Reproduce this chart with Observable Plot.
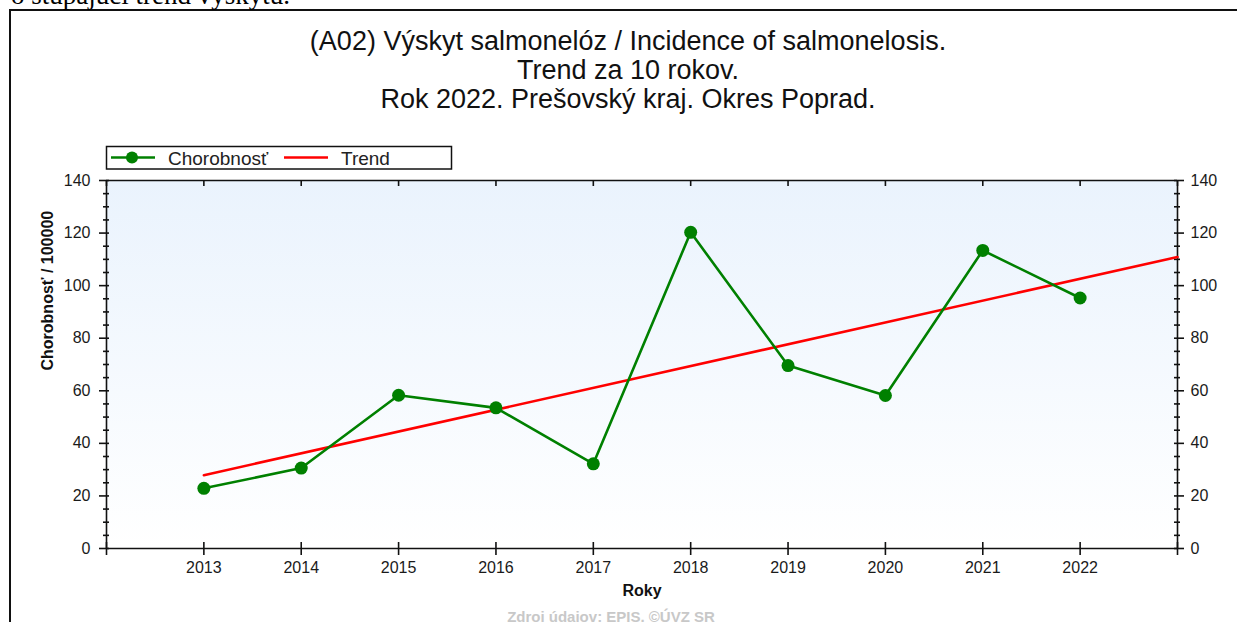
<!DOCTYPE html>
<html>
<head>
<meta charset="utf-8">
<script src="https://cdn.jsdelivr.net/npm/d3@7"></script>
<script src="https://cdn.jsdelivr.net/npm/@observablehq/plot@0.6"></script>
<style>
  html, body { margin: 0; padding: 0; background: #fff; }
  #page { position: relative; width: 1237px; height: 622px; overflow: hidden; background: #fff; font-family: "Liberation Sans", Arial, sans-serif; }
  #border { position: absolute; left: 9px; top: 9px; width: 1300px; height: 700px; border-left: 2px solid #111; border-top: 2px solid #111; }
  #chart { position: absolute; left: 0; top: 0; }
  #overlay { position: absolute; left: 0; top: 0; pointer-events: none; }
</style>
</head>
<body>
<div id="page">
  <div id="border"></div>
  <div id="chart"></div>
  <svg id="overlay" width="1237" height="622"></svg>
</div>
<script>
// ---- data ----
const years = [2013, 2014, 2015, 2016, 2017, 2018, 2019, 2020, 2021, 2022];
const incidence = [22.9, 30.6, 58.3, 53.5, 32.2, 120.3, 69.6, 58.2, 113.4, 95.3];
const trendYears = [2013, 2023];
const trendValues = [27.9, 110.9];
const xTickYears = [2012, 2013, 2014, 2015, 2016, 2017, 2018, 2019, 2020, 2021, 2022, 2023];
const yMajorTicks = [0, 20, 40, 60, 80, 100, 120, 140];
const yMinorTicks = [5, 10, 15, 25, 30, 35, 45, 50, 55, 65, 70, 75, 85, 90, 95, 105, 110, 115, 125, 130, 135];
const topNote = "o stúpajúci trend výskytu.";
const titleLines = [
  "(A02) Výskyt salmonelóz / Incidence of salmonelosis.",
  "Trend za 10 rokov.",
  "Rok 2022. Prešovský kraj. Okres Poprad."
];
const seriesLabels = ["Chorobnosť", "Trend"];
const yLabel = "Chorobnosť / 100000";
const xLabel = "Roky";
const sourceNote = "Zdroj údajov: EPIS, ©ÚVZ SR";

const incData = years.map((x, i) => ({x, y: incidence[i]}));
const trendData = trendYears.map((x, i) => ({x, y: trendValues[i]}));

const green = "#008000";
const red = "#ff0000";
const ink = "#111";

const chart = Plot.plot({
  width: 1237,
  height: 622,
  marginLeft: 106,
  marginRight: 60,
  marginTop: 180,
  marginBottom: 74,
  x: {domain: [2012, 2023], axis: null},
  y: {domain: [0, 140], axis: null},
  style: {fontFamily: "'Liberation Sans', Arial, sans-serif", fontSize: "16px", color: "#1a1a1a", background: "transparent", overflow: "visible"},
  marks: [
    Plot.frame({fill: "url(#plotBg)", stroke: null}),
    // axis lines
    Plot.ruleY([0, 140], {y: d => d, stroke: ink, strokeWidth: 1.6}),
    Plot.ruleX([2012, 2023], {x: d => d, stroke: ink, strokeWidth: 1.6}),
    // left ticks
    Plot.ruleY(yMajorTicks, {y: d => d, x1: 2012, x2: 2012, insetLeft: -7, insetRight: -3, stroke: ink, strokeWidth: 1.6}),
    Plot.ruleY(yMinorTicks, {y: d => d, x1: 2012, x2: 2012, insetLeft: -3, insetRight: -3, stroke: ink, strokeWidth: 1.6}),
    // right ticks
    Plot.ruleY(yMajorTicks, {y: d => d, x1: 2023, x2: 2023, insetLeft: -3, insetRight: -7, stroke: ink, strokeWidth: 1.6}),
    Plot.ruleY(yMinorTicks, {y: d => d, x1: 2023, x2: 2023, insetLeft: -3, insetRight: -3, stroke: ink, strokeWidth: 1.6}),
    // bottom ticks
    Plot.ruleX(xTickYears, {x: d => d, y1: 0, y2: 0, insetTop: -6, insetBottom: -7, stroke: ink, strokeWidth: 1.6}),
    // top ticks
    Plot.ruleX(xTickYears, {x: d => d, y1: 140, y2: 140, insetTop: 0, insetBottom: -6, stroke: ink, strokeWidth: 1.6}),
    // tick labels
    Plot.axisY(yMajorTicks, {anchor: "left", tickSize: 0, tickPadding: 16, label: null, fontSize: 16}),
    Plot.axisY(yMajorTicks, {anchor: "right", tickSize: 0, tickPadding: 13, label: null, fontSize: 16}),
    Plot.axisX(years, {anchor: "bottom", tickSize: 0, tickPadding: 13, label: null, fontSize: 16, tickFormat: d => String(d)}),
    // axis titles
    Plot.text([yLabel], {text: d => d, frameAnchor: "left", dx: -59, dy: 6, rotate: -90, fontWeight: "bold", fontSize: 16, fill: "#111"}),
    Plot.text([xLabel], {text: d => d, frameAnchor: "bottom", lineAnchor: "middle", dy: 42, fontWeight: "bold", fontSize: 16, fill: "#111"}),
    Plot.text([sourceNote], {text: d => d, frameAnchor: "bottom", lineAnchor: "middle", dy: 69, dx: -31, fontWeight: "bold", fontSize: 15, fill: "#c8c8c8"}),
    // series
    Plot.line(trendData, {x: "x", y: "y", stroke: red, strokeWidth: 2.6}),
    Plot.line(incData, {x: "x", y: "y", stroke: green, strokeWidth: 2.6}),
    Plot.dot(incData, {x: "x", y: "y", r: 6.5, fill: green, stroke: null})
  ]
});

// gradient background for the plot area
const svgSel = d3.select(chart);
const defs = svgSel.insert("defs", ":first-child");
const grad = defs.append("linearGradient").attr("id", "plotBg").attr("x1", 0).attr("y1", 0).attr("x2", 0).attr("y2", 1);
grad.append("stop").attr("offset", "0%").attr("stop-color", "#eaf3fd");
grad.append("stop").attr("offset", "100%").attr("stop-color", "#ffffff");

document.getElementById("chart").appendChild(chart);

// overlay: cut-off note, titles, legend
const ov = d3.select("#overlay");
ov.append("text").attr("x", 11).attr("y", 4)
  .style("font-family", "'Liberation Serif', 'Times New Roman', serif").style("font-size", "27px").attr("fill", "#000")
  .text(topNote);

const tg = ov.append("g").style("font-family", "'Liberation Sans', Arial, sans-serif").style("font-size", "27px").attr("fill", "#111").attr("text-anchor", "middle");
titleLines.forEach((t, i) => {
  tg.append("text").attr("x", 628).attr("y", 49.5 + i * 29).text(t);
});

const lg = ov.append("g");
lg.append("rect").attr("x", 106.5).attr("y", 146.5).attr("width", 345).attr("height", 22.5).attr("fill", "#fff").attr("stroke", "#111").attr("stroke-width", 1.5);
lg.append("line").attr("x1", 111).attr("x2", 155).attr("y1", 157.5).attr("y2", 157.5).attr("stroke", green).attr("stroke-width", 2.6);
lg.append("circle").attr("cx", 132).attr("cy", 157.5).attr("r", 6).attr("fill", green);
lg.append("line").attr("x1", 284).attr("x2", 328).attr("y1", 157.5).attr("y2", 157.5).attr("stroke", red).attr("stroke-width", 2.6);
const lt = lg.append("g").style("font-family", "'Liberation Sans', Arial, sans-serif").style("font-size", "19px").attr("fill", "#222");
lt.append("text").attr("x", 168).attr("y", 164.5).text(seriesLabels[0]);
lt.append("text").attr("x", 341).attr("y", 164.5).text(seriesLabels[1]);
</script>
</body>
</html>
